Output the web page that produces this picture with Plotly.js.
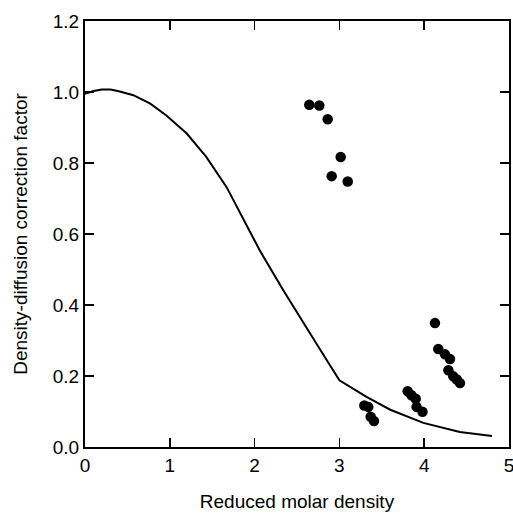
<!DOCTYPE html>
<html>
<head>
<meta charset="utf-8">
<script src="https://cdn.plot.ly/plotly-3.0.1.min.js"></script>
<style>html,body{margin:0;padding:0;background:#fff;}#chart{width:513px;height:515px;}</style>
</head>
<body>
<div id="chart"></div>
<script>
// Theoretical correction curve
var curveX = [0, 0.1, 0.2, 0.3, 0.4, 0.57, 0.77, 0.96, 1.2, 1.43, 1.67, 1.9, 2.06, 2.34, 2.46, 2.73, 3.0, 3.32, 3.6, 3.99, 4.42, 4.8];
var curveY = [0.995, 1.003, 1.007, 1.007, 1.002, 0.991, 0.967, 0.934, 0.883, 0.817, 0.732, 0.629, 0.554, 0.441, 0.394, 0.291, 0.188, 0.141, 0.105, 0.068, 0.042, 0.031];

// Experimental points
var pointsX = [2.645, 2.763, 2.862, 3.015, 2.909, 3.098,
               3.294, 3.34, 3.369, 3.408,
               3.805, 3.85, 3.90, 3.91, 3.98,
               4.127, 4.166, 4.245, 4.304, 4.285, 4.343, 4.385, 4.422];
var pointsY = [0.964, 0.962, 0.923, 0.817, 0.763, 0.748,
               0.117, 0.113, 0.085, 0.073,
               0.157, 0.146, 0.136, 0.113, 0.099,
               0.349, 0.276, 0.261, 0.248, 0.216, 0.199, 0.190, 0.180];

var xTicks = [0, 1, 2, 3, 4, 5];
var yTicks = [0.0, 0.2, 0.4, 0.6, 0.8, 1.0, 1.2];

var font = {family: 'Liberation Sans, Arial, Helvetica, sans-serif', size: 19, color: '#000'};

var traces = [
  {x: curveX, y: curveY, type: 'scatter', mode: 'lines', line: {color: '#000', width: 2}, hoverinfo: 'none'},
  {x: pointsX, y: pointsY, type: 'scatter', mode: 'markers', marker: {color: '#000', size: 10.5}, hoverinfo: 'none'}
];

var axisCommon = {
  showline: true, linecolor: '#000', linewidth: 2, mirror: 'ticks',
  ticks: 'inside', ticklen: 9, tickwidth: 1.5, tickcolor: '#000',
  showgrid: false, zeroline: false, tickfont: font, ticklabeloverflow: 'allow'
};

var layout = {
  width: 513, height: 515,
  margin: {l: 85, r: 4, t: 21, b: 68},
  paper_bgcolor: '#fff', plot_bgcolor: '#fff',
  showlegend: false,
  font: font,
  xaxis: Object.assign({}, axisCommon, {
    range: [0, 5], tickvals: xTicks, ticktext: xTicks.map(String),
    title: {text: 'Reduced molar density', font: font, standoff: 20}
  }),
  yaxis: Object.assign({}, axisCommon, {
    range: [0, 1.2], tickvals: yTicks, ticktext: yTicks.map(function(v){return v.toFixed(1);}),
    title: {text: 'Density-diffusion correction factor', font: font, standoff: 20}
  })
};

Plotly.newPlot('chart', traces, layout, {staticPlot: true, displayModeBar: false});
</script>
</body>
</html>
